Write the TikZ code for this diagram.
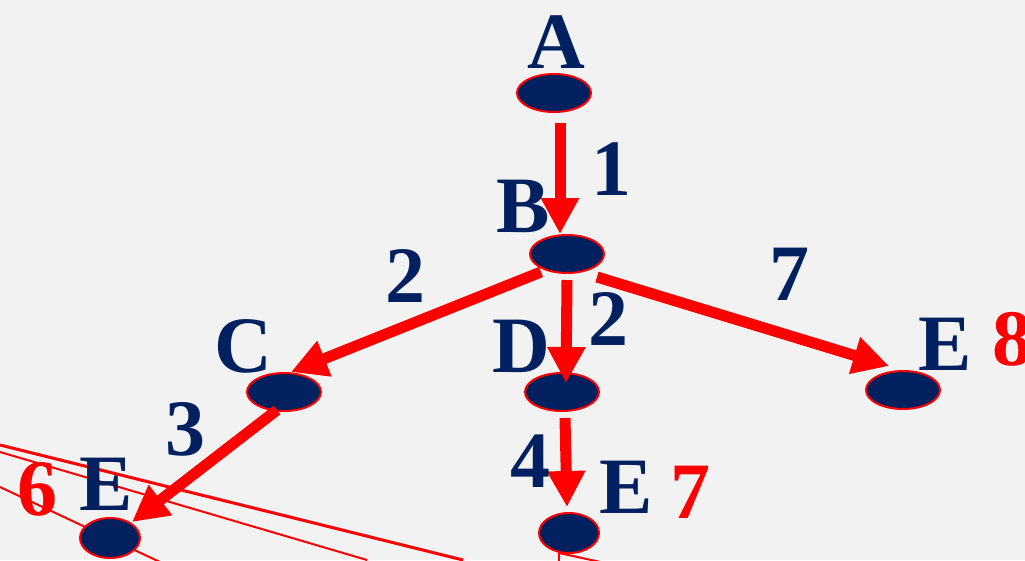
\documentclass[tikz,border=0pt]{standalone}
\usepackage{fontspec}
\setmainfont{Liberation Serif}
\usetikzlibrary{arrows.meta,shapes.geometric}
\definecolor{navy}{RGB}{0,32,96}
\definecolor{bg}{RGB}{242,242,242}
\definecolor{rred}{RGB}{255,0,0}
\tikzset{
  vtx/.style={ellipse, fill=navy, draw=rred, line width=2pt, inner sep=0pt},
  big/.style={vtx, minimum width=74pt, minimum height=38pt},
  small/.style={vtx, minimum width=60pt, minimum height=40pt},
  lbl/.style={anchor=base, inner sep=0pt, text=navy, font=\bfseries\fontsize{80}{80}\selectfont},
  cost/.style={anchor=base, inner sep=0pt, text=rred, font=\bfseries\fontsize{80}{80}\selectfont},
  edge/.style={draw=rred, line width=11pt, -{Triangle[length=36pt,width=36pt]}},
  thin/.style={draw=rred, line width=2pt},
}
\begin{document}
\begin{tikzpicture}[x=1pt,y=-1pt]
\fill[bg] (0,0) rectangle (1025,560);
\useasboundingbox (0,0) rectangle (1025,560);
\clip (0,0) rectangle (1025,560);
% thin background lines
\coordinate (l1a) at (0,445);   \coordinate (l1b) at (463,560);
\coordinate (l2a) at (0,452);   \coordinate (l2b) at (367,560);
\coordinate (l3a) at (0,487);   \coordinate (l3b) at (160,562);
\coordinate (l4a) at (559,553); \coordinate (l4b) at (559,562);
\coordinate (l5b) at (605,563);
\draw[thin, line width=3pt] (l1a) -- (l1b);
\draw[thin] (l2a) -- (l2b);
\draw[thin] (l3a) -- (l3b);
\draw[thin] (l4a) -- (l4b);
\draw[thin] (l4a) -- (l5b);
% vertices
\node[big] (A) at (554,93) {};
\node[big] (B) at (567,254) {};
\node[big] (C) at (284,392) {};
\node[big] (D) at (562,392) {};
\node[big] (E1) at (903,390) {};
\node[small] (E2) at (110,538) {};
\node[small] (E3) at (569,533) {};
% arrow end points
\coordinate (sAB) at (560,123); \coordinate (tAB) at (560,234);
\coordinate (sBC) at (541,272); \coordinate (tBC) at (291,372);
\coordinate (sBD) at (567,280); \coordinate (tBD) at (566,383);
\coordinate (sBE) at (597,277); \coordinate (tBE) at (889,366);
\coordinate (sCE) at (277,410); \coordinate (tCE) at (132,522);
\coordinate (sDE) at (565,418); \coordinate (tDE) at (567,507);
\draw[edge] (sAB) -- (tAB);
\draw[edge] (sBC) -- (tBC);
\draw[edge] (sBD) -- (tBD);
\draw[edge] (sBE) -- (tBE);
\draw[edge] (sCE) -- (tCE);
\draw[edge] (sDE) -- (tDE);
% vertex labels
\node[lbl] (tA) at (556,68) {A};
\node[lbl] (tB) at (523,232) {B};
\node[lbl] (tC) at (243,372) {C};
\node[lbl] (tD) at (521,372) {D};
\node[lbl] (tE1) at (945,370) {E};
\node[lbl] (tE2) at (106,510) {E};
\node[lbl] (tE3) at (626,513) {E};
% edge weights
\node[lbl] (w1) at (611,195) {1};
\node[lbl] (w2) at (405,302) {2};
\node[lbl] (w3) at (608,345) {2};
\node[lbl] (w4) at (789,300) {7};
\node[lbl] (w5) at (185,455) {3};
\node[lbl] (w6) at (530,487) {4};
% path costs
\node[cost] (c8) at (1012,365) {8};
\node[cost] (c6) at (37,515) {6};
\node[cost] (c7) at (690,518) {7};
\end{tikzpicture}
\end{document}
